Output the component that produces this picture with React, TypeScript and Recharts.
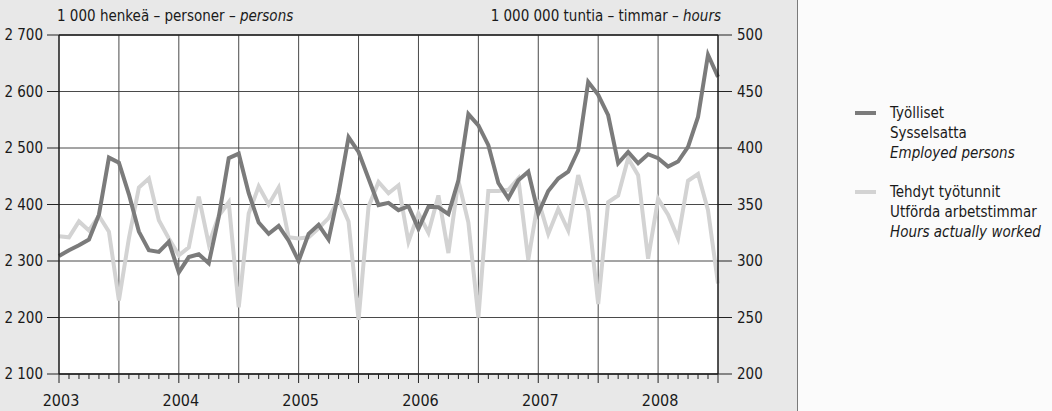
import { LineChart, Line, XAxis, YAxis, CartesianGrid, ReferenceLine } from 'recharts';

const FONT = "'Liberation Sans Narrow', 'Arial Narrow', 'DejaVu Sans Condensed', sans-serif";
const FS = 15;

const years = ['2003', '2004', '2005', '2006', '2007', '2008'];

// Työlliset, 1 000 henkeä (kuukausittain 1/2003 - 7/2008)
const employed = [
  2309, 2319, 2328, 2338, 2382, 2483, 2474, 2418, 2352, 2319, 2316, 2334,
  2280, 2307, 2312, 2296, 2378, 2482, 2490, 2420, 2368, 2348, 2362, 2336,
  2300, 2348, 2364, 2338, 2420, 2519, 2493, 2446, 2399, 2403, 2390, 2397,
  2357, 2396, 2395, 2383, 2443, 2560, 2540, 2505, 2438, 2411, 2443, 2458,
  2384, 2424, 2446, 2458, 2496, 2617, 2594, 2558, 2473, 2493, 2473, 2489,
  2482, 2467, 2476, 2502, 2555, 2665, 2626,
];

// Tehdyt työtunnit, 1 000 000 tuntia
const hours = [
  322, 321, 335, 327, 340, 326, 265, 320, 365, 373, 336, 320,
  305, 312, 357, 315, 340, 352, 259, 342, 366, 350, 365, 321,
  320, 321, 329, 338, 355, 335, 248, 348, 370, 360, 367, 317,
  342, 325, 358, 307, 371, 334, 250, 362, 362, 363, 373, 301,
  354, 324, 346, 327, 376, 344, 262, 352, 358, 391, 376, 302,
  355, 341, 320, 371, 377, 345, 280,
];

const leftTicks = [2100, 2200, 2300, 2400, 2500, 2600, 2700];
const rightTicks = [200, 250, 300, 350, 400, 450, 500];

const data = employed.map((v, i) => ({ i, employed: v, hours: hours[i] }));
const monthTicks = data.map((d) => d.i);
const halfYears = monthTicks.filter((i) => i % 6 === 0 && i > 0 && i < monthTicks.length - 1);

const fmtThousands = (v: number) =>
  v >= 1000 ? `${Math.floor(v / 1000)} ${String(v % 1000).padStart(3, '0')}` : String(v);

function MonthTick(props: any) {
  const { x, y, payload } = props;
  const i = payload.value as number;
  const major = i % 6 === 0;
  const label = i % 12 === 0 ? years[i / 12] : null;
  return (
    <g>
      <line x1={x} x2={x} y1={y} y2={y + (major ? 9 : 5)} stroke="#222" strokeWidth={1} />
      {label && (
        <text x={x + 2} y={y + 32} textAnchor="middle" fill="#1a1a1a" fontSize={FS + 1} fontFamily={FONT}>
          {label}
        </text>
      )}
    </g>
  );
}

export default function App() {
  return (
    <div style={{ position: 'absolute', left: 0, top: 0, width: 1052, height: 411, background: '#fbfbfb', fontFamily: FONT }}>
      <div style={{ position: 'absolute', left: 0, top: 0, width: 797, height: 411, background: '#e8e8e8', borderRight: '1px solid #7a7a7a' }}>
        <LineChart width={797} height={411} data={data} margin={{ top: 35, right: 0, bottom: 0, left: 0 }}>
          <CartesianGrid yAxisId="left" vertical={false} stroke="#4a4a4a" strokeWidth={1} fill="#ffffff" fillOpacity={1} />
          {halfYears.map((i) => (
            <ReferenceLine key={i} x={i} yAxisId="left" stroke="#4a4a4a" strokeWidth={1} />
          ))}
          <ReferenceLine y={2700} yAxisId="left" stroke="#222" strokeWidth={1.5} />
          <XAxis
            type="number"
            dataKey="i"
            domain={[0, monthTicks.length - 1]}
            ticks={monthTicks}
            interval={0}
            tick={(p: any) => <MonthTick {...p} />}
            tickLine={false}
            tickSize={0}
            tickMargin={0}
            height={37}
            axisLine={{ stroke: '#1a1a1a', strokeWidth: 1.5 }}
          />
          <YAxis
            yAxisId="left"
            domain={[2100, 2700]}
            ticks={leftTicks}
            interval={0}
            width={59}
            tickSize={12}
            tickMargin={4}
            tickFormatter={fmtThousands}
            tick={{ fill: '#1a1a1a', fontSize: FS, fontFamily: FONT }}
            tickLine={{ stroke: '#222' }}
            axisLine={{ stroke: '#1a1a1a', strokeWidth: 1.5 }}
          />
          <YAxis
            yAxisId="right"
            orientation="right"
            domain={[200, 500]}
            ticks={rightTicks}
            interval={0}
            width={79}
            tickSize={14}
            tickMargin={5}
            tick={{ fill: '#1a1a1a', fontSize: FS, fontFamily: FONT, textAnchor: 'start' }}
            tickLine={{ stroke: '#222' }}
            axisLine={{ stroke: '#1a1a1a', strokeWidth: 1.5 }}
          />
          <Line
            yAxisId="right"
            type="linear"
            dataKey="hours"
            stroke="#d3d3d3"
            strokeWidth={4}
            dot={false}
            isAnimationActive={false}
          />
          <Line
            yAxisId="left"
            type="linear"
            dataKey="employed"
            stroke="#7b7b7b"
            strokeWidth={4}
            dot={false}
            isAnimationActive={false}
          />
        </LineChart>
      </div>
      <svg width={1052} height={411} style={{ position: 'absolute', left: 0, top: 0, pointerEvents: 'none' }}>
        <g fontFamily={FONT} fontSize={FS} fill="#1a1a1a">
          <text x={57} y={21}>
            1 000 henkeä – personer – <tspan fontStyle="italic">persons</tspan>
          </text>
          <text x={721} y={21} textAnchor="end">
            1 000 000 tuntia – timmar – <tspan fontStyle="italic">hours</tspan>
          </text>
          <line x1={855} x2={876} y1={113} y2={113} stroke="#7b7b7b" strokeWidth={4} />
          <text x={890} y={118}>Työlliset</text>
          <text x={890} y={138}>Sysselsatta</text>
          <text x={890} y={158} fontStyle="italic">Employed persons</text>
          <line x1={855} x2={876} y1={192} y2={192} stroke="#d3d3d3" strokeWidth={4} />
          <text x={890} y={197}>Tehdyt työtunnit</text>
          <text x={890} y={217}>Utförda arbetstimmar</text>
          <text x={890} y={237} fontStyle="italic">Hours actually worked</text>
        </g>
      </svg>
    </div>
  );
}
